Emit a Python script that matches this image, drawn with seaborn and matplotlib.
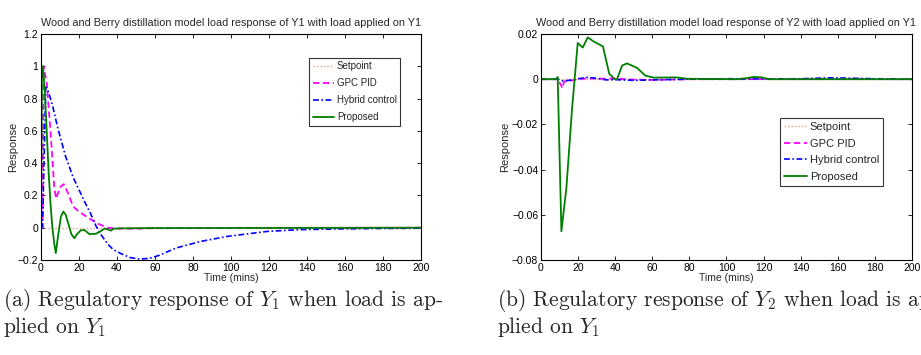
import matplotlib
matplotlib.use("Agg")
import matplotlib.pyplot as plt
import seaborn as sns
import numpy as np
import pandas as pd
from matplotlib.ticker import FuncFormatter, MultipleLocator

# ---------------- data: panel (a) Y1 ----------------
t_a_set = [0, 200]
y_a_set = [0, 0]

t_a_gpc = [0, 0.8, 1.3, 3, 5, 7, 8, 10, 12, 14, 17, 20, 25, 30, 35, 40, 50, 60, 200]
y_a_gpc = [0, 0, 1.0, 0.9, 0.6, 0.25, 0.18, 0.25, 0.27, 0.22, 0.13, 0.1, 0.06, 0.025, 0.0, -0.005, -0.006, -0.003, 0]

t_a_hyb = [0, 0.8, 2.5, 4, 6, 9, 13, 17, 20, 23, 26, 29, 32, 35, 38, 42, 47, 52, 57, 62, 71, 84, 98, 119, 136, 154, 175, 200]
y_a_hyb = [0, 0, 0.87, 0.84, 0.76, 0.61, 0.44, 0.31, 0.235, 0.16, 0.09, 0.01, -0.05, -0.1, -0.135, -0.16, -0.185, -0.194, -0.19, -0.172, -0.126, -0.085, -0.054, -0.023, -0.012, -0.008, -0.005, -0.003]

t_a_pro = [0, 0.5, 1, 2, 3, 4, 5, 6, 7, 7.8, 9, 10.5, 11.8, 13, 14.5, 16, 17.5, 19, 21, 23, 25.5, 29, 31, 33.5, 35, 37, 38, 42, 60, 200]
y_a_pro = [0, 1.0, 1.0, 0.85, 0.6, 0.35, 0.15, 0.0, -0.1, -0.157, -0.05, 0.07, 0.1, 0.08, 0.02, -0.04, -0.065, -0.04, -0.015, -0.015, -0.04, -0.037, -0.025, -0.005, -0.01, -0.018, -0.006, -0.004, -0.002, 0]

# ---------------- data: panel (b) Y2 ----------------
t_b_set = [0, 200]
y_b_set = [0, 0]

t_b_gpc = [0, 9, 10, 11, 11.5, 12.5, 15, 20, 25, 30, 40, 50, 60, 80, 100, 150, 200]
y_b_gpc = [0, 0, -0.0015, -0.003, -0.004, -0.001, -0.0008, 0.0, 0.0004, 0.0002, 0.0003, -0.0002, -0.0003, 0.0, 0.0, 0.0001, 0.0]

t_b_hyb = [0, 9, 12, 15, 20, 25, 30, 35, 40, 50, 60, 80, 100, 120, 140, 155, 165, 180, 200]
y_b_hyb = [0, 0, -0.0008, -0.0005, 0.0002, 0.0008, 0.0004, -0.0003, -0.0002, -0.0005, -0.0003, 0.0, 0.0002, 0.0001, 0.0002, 0.0006, 0.0005, 0.0002, 0.0]

t_b_pro = [0, 8, 9, 11, 13.7, 16.7, 19.8, 22.5, 25.2, 28.4, 33.4, 36.8, 38.3, 39.5, 41, 43.7, 46.4, 51.8, 56.2, 60.7, 73, 78.7, 105, 110, 115, 119, 123, 200]
y_b_pro = [0, 0, 0.001, -0.0673, -0.048, -0.0135, 0.016, 0.014, 0.0185, 0.0167, 0.0145, 0.0024, 0.0013, 0.0, 0.0, 0.006, 0.007, 0.005, 0.0016, 0.0007, 0.0008, 0.0002, 0.0, 0.0004, 0.001, 0.0008, 0.0, 0.0]

series_names = ["Setpoint", "GPC PID", "Hybrid control", "Proposed"]
titles = ["Wood and Berry distillation model load response of Y1 with load applied on Y1",
          "Wood and Berry distillation model load response of Y2 with load applied on Y1"]
captions = [("(a) Regulatory response of $Y_1$ when load is ap-", "plied on $Y_1$"),
            ("(b) Regulatory response of $Y_2$ when load is ap-", "plied on $Y_1$")]

sns.set_theme(style="white")
plt.rcParams['font.family'] = ['Liberation Sans', 'DejaVu Sans']
plt.rcParams['mathtext.fontset'] = 'cm'

fig = plt.figure(figsize=(9.21, 3.55), dpi=100)
ax_a = fig.add_axes([0.0445, 0.2676, 0.4126, 0.6366])
ax_b = fig.add_axes([0.5874, 0.2676, 0.4028, 0.6366])

styles = {
    "Setpoint": dict(color="#e0a080", linestyle=(0, (1, 1.5)), linewidth=1.0),
    "GPC PID": dict(color="#ff00ff", linestyle=(0, (3.5, 2)), linewidth=1.3),
    "Hybrid control": dict(color="#0000ff", linestyle=(0, (3.5, 1.5, 1, 1.5)), linewidth=1.2),
    "Proposed": dict(color="#008000", linestyle="-", linewidth=1.3),
}

panel_data = [
    [(t_a_set, y_a_set), (t_a_gpc, y_a_gpc), (t_a_hyb, y_a_hyb), (t_a_pro, y_a_pro)],
    [(t_b_set, y_b_set), (t_b_gpc, y_b_gpc), (t_b_hyb, y_b_hyb), (t_b_pro, y_b_pro)],
]

def fmt(v, pos):
    s = "%g" % round(v, 6)
    if s == "-0":
        s = "0"
    return s.replace("-", "\u2212")

for i, ax in enumerate([ax_a, ax_b]):
    for name, (tt, yy) in zip(series_names, panel_data[i]):
        df = pd.DataFrame({"t": tt, "y": yy})
        sns.lineplot(data=df, x="t", y="y", ax=ax, label=name, sort=False,
                     estimator=None, **styles[name])
    ax.set_xlim(0, 200)
    ax.xaxis.set_major_locator(MultipleLocator(20))
    if i == 0:
        ax.set_ylim(-0.2, 1.2)
        ax.yaxis.set_major_locator(MultipleLocator(0.2))
    else:
        ax.set_ylim(-0.08, 0.02)
        ax.yaxis.set_major_locator(MultipleLocator(0.02))
    ax.yaxis.set_major_formatter(FuncFormatter(fmt))
    ax.xaxis.set_major_formatter(FuncFormatter(fmt))
    ax.tick_params(direction="in", length=3, width=0.6, top=True, right=True,
                   labelsize=7.5, pad=2, colors="black", bottom=True, left=True)
    for sp in ax.spines.values():
        sp.set_color("black")
        sp.set_linewidth(0.8)
    ax.set_xlabel("Time (mins)", fontsize=7.5, labelpad=0)
    ax.set_ylabel("Response", fontsize=8, labelpad=0 if i == 0 else 1)
    ax.set_title(titles[i], fontsize=7.8, pad=6)
    if i == 0:
        leg = ax.legend(loc="upper right", bbox_to_anchor=(0.945, 0.894), fontsize=7,
                        frameon=True, fancybox=False, handlelength=2.2, handletextpad=0.3,
                        borderpad=0.35, labelspacing=0.72, borderaxespad=0)
    else:
        leg = ax.legend(loc="upper right", bbox_to_anchor=(0.922, 0.628), fontsize=8,
                        frameon=True, fancybox=False, handlelength=2.0, handletextpad=0.3,
                        borderpad=0.35, labelspacing=0.6, borderaxespad=0)
    leg.get_frame().set_edgecolor("black")
    leg.get_frame().set_linewidth(0.8)

caption_x = [3 / 921, 497 / 921]
for i in range(2):
    fig.text(caption_x[i], 1 - 300 / 355, captions[i][0], fontsize=15.5,
             family="cmr10", va="center", ha="left")
    fig.text(caption_x[i], 1 - 327 / 355, captions[i][1], fontsize=15.5,
             family="cmr10", va="center", ha="left")

fig.savefig("out.png", dpi=100)
